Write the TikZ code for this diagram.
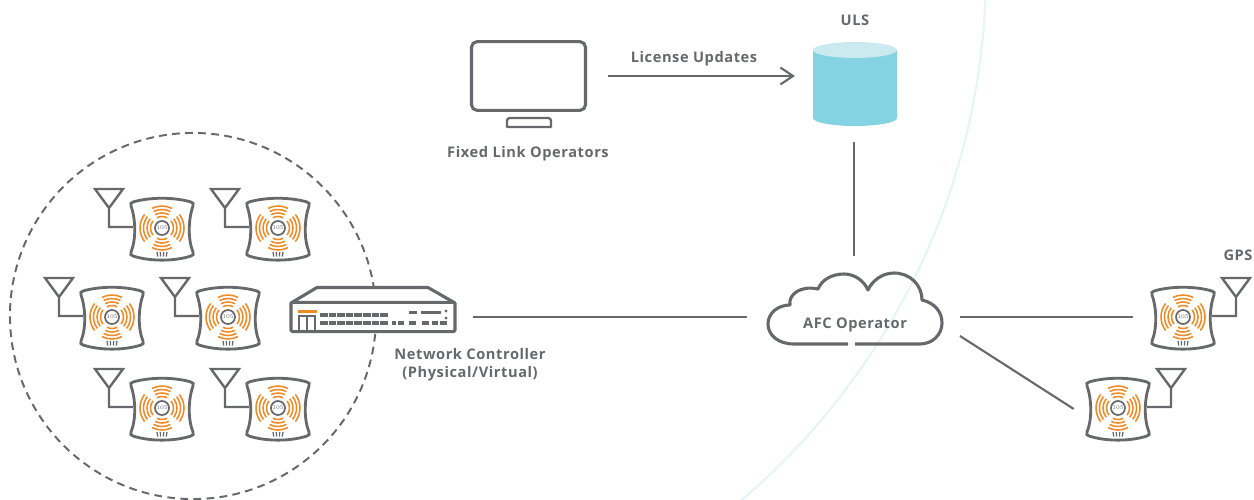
\documentclass[tikz,border=0pt]{standalone}
\usepackage{fontspec}
\newfontfamily\labelfont[LetterSpace=4]{Open Sans}
\usetikzlibrary{arrows.meta,calc}

\definecolor{inkgray}{HTML}{67686C}
\definecolor{aporange}{HTML}{F08A24}
\definecolor{dbbody}{HTML}{84D2E2}
\definecolor{dbtop}{HTML}{CBEAF0}
\definecolor{paleline}{HTML}{E6F4F8}

\tikzset{
	outline/.style={draw=inkgray,line width=2.2pt,line join=round},
	link/.style={draw=inkgray,line width=1.5pt},
	caption/.style={text=inkgray,font=\labelfont\bfseries\fontsize{10.4}{12.8}\selectfont,align=center,inner sep=0pt},
	aerial/.style={draw=inkgray,line width=1.7pt,line join=miter},
	apwave/.style={draw=aporange,line width=1.1pt},
	port/.style={fill=inkgray,draw=none},
	pics/apunit/.style={code={
		\node[minimum width=1.6cm,minimum height=1.5cm,inner sep=0pt] (-body) {};
		\draw[aerial,xscale=#1] (-67,-39) -- (-39,-39) -- (-53,-20) -- cycle (-53,-20) -- (-53,-1) -- (-29,-1); %antenna and its lead
		\draw[draw=inkgray,line width=2pt,fill=white] (-29,-26) .. controls (-12,-31) and (12,-31) .. (29,-26) .. controls (31,-25.5) and (32,-24) .. (31,-22)
			.. controls (26,-8) and (26,12) .. (31,24) .. controls (32,26) and (31,27.5) .. (29,28) .. controls (12,33.5) and (-12,33.5) .. (-29,28)
			.. controls (-31,27.5) and (-32,26) .. (-31,24) .. controls (-26,12) and (-26,-8) .. (-31,-22) .. controls (-32,-24) and (-31,-25.5) .. (-29,-26) -- cycle; %housing
		\foreach \a/\w in {0/38,90/27,180/38,270/27}{
			\foreach \r in {11.5,15,18.5,22}{
				\draw[apwave] (\a-\w:\r) arc[start angle=\a-\w,end angle=\a+\w,radius=\r];
			}
		}
		\node[circle,fill=white,draw=inkgray,line width=1.2pt,minimum size=.35cm,inner sep=0pt,text=inkgray,font=\fontsize{4}{4}\selectfont] (-hub) {105};
		\foreach \x in {-5,-1.7,1.7,5}{
			\draw[inkgray,line width=.9pt] (\x,24) -- (\x*.85,28.5); %vents
		}
	}}
}

\begin{document}
\begin{tikzpicture}[x=.025cm,y=-.025cm]
	\path[use as bounding box,clip] (0,0) rectangle (1254,499);
	\draw[paleline,line width=1.5pt] (289,-30) circle (697);		%big pale arc

	\node[circle,draw=inkgray,line width=1.4pt,dash pattern=on 5.5pt off 3.8pt,minimum size=9.15cm,inner sep=0pt] (apzone) at (193,316) {};

	%access points in the dashed group
	\pic (ap1) at (162,228) {apunit=1};
	\pic (ap2) at (278,228) {apunit=1};
	\pic (ap3) at (112,317) {apunit=1};
	\pic (ap4) at (228,317) {apunit=1};
	\pic (ap5) at (162,408) {apunit=1};
	\pic (ap6) at (278,408) {apunit=1};
	%standard power access points
	\pic (apgps) at (1183,317) {apunit=-1};
	\pic (apsec) at (1118,408) {apunit=-1};

	%network controller
	\draw[outline,fill=white] (291,303) -- (317,287.5) -- (428,287.5) -- (455,303) -- cycle;
	\node[outline,fill=white,minimum width=4.1cm,minimum height=.73cm,inner sep=0pt,rounded corners=1pt] (ctrl) at (373,317) {};
	\fill[aporange] (298,310) rectangle (317,312.5);
	\draw[inkgray,line width=1.2pt] (299,332) -- (299,316) -- (315,316) -- (315,332) (307,316) -- (307,332);
	\foreach \x in {0,...,7}{
		\fill[port] (320+\x*8.6,312.7) rectangle ++(7.5,4.6);
		\fill[port] (320+\x*8.6,320.7) rectangle ++(7.5,4.6);
	}
	\foreach \x/\w in {392/4,398/6,409/7,422/7,432/6,440/7}{
		\fill[port] (\x,321) rectangle ++(\w,4);
	}
	\fill[port] (409,311) rectangle (417,314);
	\fill[port] (421,311) rectangle (441,314);
	\fill[port] (446,311) circle (1.6);
	\fill[port] (446,318) circle (1.6);

	%fixed link operators
	\node[outline,minimum width=2.85cm,minimum height=1.72cm,inner sep=0pt,rounded corners=4pt] (monitor) at (528.5,76) {};
	\draw[outline,line width=1.6pt] (507,127) -- (507,121) .. controls (507,119) and (508,118) .. (510,118) -- (548,118) .. controls (550,118) and (551,119) .. (551,121) -- (551,127) -- cycle;
	\node[caption] (fixedlabel) at (528,153.5) {Fixed Link Operators};

	%database
	\node[minimum width=2.1cm,minimum height=2.1cm,inner sep=0pt,outer sep=0pt] (uls) at (855,84) {};
	\fill[dbbody] (813,50) -- (813,118) arc[start angle=180,end angle=0,x radius=42,y radius=8] -- (897,50) -- cycle;
	\fill[dbtop] (855,50) ellipse[x radius=42,y radius=8];
	\node[caption] (ulslabel) at (855,20.5) {ULS};

	%cloud
	\node[minimum width=4.375cm,minimum height=1.8cm,inner sep=0pt] (cloud) at (855.5,309) {};
	\draw[outline] (848,344) -- (794,344) .. controls (778,344) and (768,335) .. (768,324) .. controls (768,313) and (778,305) .. (790,305)
		.. controls (788,295) and (800,285) .. (818,289) .. controls (822,279) and (833,274) .. (844,274) .. controls (855,274) and (864,281) .. (868,290)
		.. controls (872,281) and (882,273) .. (894,273) .. controls (910,273) and (922,285) .. (922,300) .. controls (935,303) and (942,312) .. (942,323)
		.. controls (942,335) and (932,344) .. (920,344) -- (855,344);
	\node[caption] (afclabel) at (855,325) {AFC Operator};
	\coordinate (afcout) at (960,336);

	%connectors
	\draw[link,-{Straight Barb[length=9pt,width=12pt]},shorten <=.525cm,shorten >=.45cm] (monitor.east) -- (monitor.east -| uls.west);
	\node[caption] (updatelabel) at (694,58.5) {License Updates};
	\draw[link,shorten <=.4cm,shorten >=.425cm] ([xshift=-.025cm]uls.south) -- ([xshift=-.025cm]uls.south |- cloud.north);
	\draw[link,shorten <=.4cm,shorten >=.525cm] (ctrl.east) -- (ctrl.east -| cloud.west);
	\draw[link,shorten <=.425cm,shorten >=.45cm] (apgps-body.west -| cloud.east) -- (apgps-body.west);
	\draw[link,shorten >=.356cm] (afcout) -- (apsec-body.195);

	\node[caption] (ctrllabel) at (470,364.5) {Network Controller\\(Physical/Virtual)};
	\node[caption] (gpslabel) at (1238,255.5) {GPS};
\end{tikzpicture}
\end{document}
